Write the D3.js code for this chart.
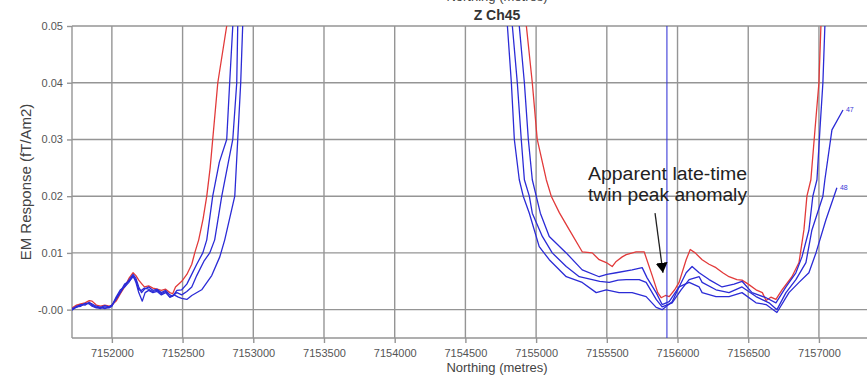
<!DOCTYPE html>
<html>
<head>
<meta charset="utf-8">
<script src="https://cdn.jsdelivr.net/npm/d3@7"></script>
<style>
  body { margin: 0; background: #fff; }
  svg { display: block; font-family: "Liberation Sans", Arial, sans-serif; }
</style>
</head>
<body>
<svg id="chart" width="867" height="377"></svg>
<script>
// tick values and labels
const xTicks = [7152000, 7152500, 7153000, 7153500, 7154000, 7154500, 7155000, 7155500, 7156000, 7156500, 7157000];
const yTicks = [0, 0.01, 0.02, 0.03, 0.04, 0.05];
const yTickLabels = ["-0.00", "0.01", "0.02", "0.03", "0.04", "0.05"];

// [northing, response]; the big anomaly in the middle is off scale
const ch45 = [
  [7151718,0.0003],[7151750,0.0008],[7151780,0.0010],[7151810,0.0012],[7151840,0.0016],[7151860,0.0015],
  [7151890,0.0008],[7151920,0.0006],[7151950,0.0008],[7151980,0.0006],[7152000,0.0008],[7152030,0.0015],
  [7152060,0.0028],[7152090,0.0040],[7152120,0.0055],[7152150,0.0065],[7152170,0.0060],[7152190,0.0052],
  [7152210,0.0046],[7152230,0.0040],[7152260,0.0042],[7152290,0.0038],[7152320,0.0036],[7152350,0.0034],
  [7152380,0.0036],[7152410,0.0030],[7152430,0.0028],[7152450,0.0040],[7152494,0.0050],[7152530,0.0062],
  [7152565,0.0080],[7152586,0.0100],[7152614,0.0123],[7152645,0.0160],[7152671,0.0200],[7152695,0.0250],
  [7152713,0.0300],[7152749,0.0400],[7152812,0.0500],[7152840,0.0560],[7153850,0.3000],
  [7154910,0.0600],[7154931,0.0500],[7154973,0.0400],[7155008,0.0300],[7155072,0.0229],[7155107,0.0200],
  [7155164,0.0171],[7155234,0.0141],[7155326,0.0102],[7155397,0.0100],[7155446,0.0088],[7155496,0.0083],
  [7155538,0.0076],[7155566,0.0085],[7155609,0.0093],[7155637,0.0097],[7155707,0.0102],[7155764,0.0102],
  [7155821,0.0060],[7155860,0.0030],[7155884,0.0021],[7155915,0.0025],[7155941,0.0023],[7155980,0.0035],
  [7156011,0.0048],[7156061,0.0088],[7156090,0.0106],[7156125,0.0100],[7156174,0.0088],[7156223,0.0080],
  [7156272,0.0074],[7156320,0.0065],[7156364,0.0058],[7156420,0.0053],[7156456,0.0052],[7156500,0.0045],
  [7156555,0.0035],[7156600,0.0030],[7156626,0.0016],[7156660,0.0022],[7156696,0.0018],[7156739,0.0035],
  [7156809,0.0058],[7156859,0.0083],[7156894,0.0141],[7156915,0.0200],[7156943,0.0229],[7156972,0.0317],
  [7157000,0.0400],[7157014,0.0500],[7157030,0.0600]
];
const ch46 = [
  [7151718,0.0000],[7151750,0.0006],[7151780,0.0008],[7151810,0.0010],[7151840,0.0012],[7151860,0.0010],
  [7151890,0.0006],[7151920,0.0004],[7151950,0.0007],[7151980,0.0005],[7152000,0.0008],[7152030,0.0018],
  [7152060,0.0030],[7152090,0.0042],[7152120,0.0052],[7152150,0.0062],[7152170,0.0055],[7152190,0.0040],
  [7152210,0.0030],[7152230,0.0036],[7152260,0.0040],[7152290,0.0034],[7152320,0.0036],[7152350,0.0030],
  [7152380,0.0034],[7152410,0.0026],[7152430,0.0024],[7152460,0.0034],[7152494,0.0035],[7152530,0.0045],
  [7152560,0.0060],[7152600,0.0080],[7152643,0.0100],[7152671,0.0123],[7152713,0.0200],[7152760,0.0260],
  [7152812,0.0300],[7152833,0.0400],[7152855,0.0500],[7152870,0.0560],[7153850,0.3000],
  [7154860,0.0600],[7154881,0.0500],[7154917,0.0400],[7154945,0.0300],[7154973,0.0229],[7155001,0.0200],
  [7155030,0.0170],[7155093,0.0129],[7155213,0.0100],[7155326,0.0070],[7155446,0.0058],[7155500,0.0062],
  [7155566,0.0065],[7155679,0.0070],[7155750,0.0074],[7155785,0.0056],[7155849,0.0030],[7155891,0.0009],
  [7155941,0.0014],[7156011,0.0040],[7156061,0.0065],[7156103,0.0076],[7156153,0.0065],[7156223,0.0053],
  [7156315,0.0040],[7156400,0.0045],[7156456,0.0050],[7156527,0.0030],[7156626,0.0021],[7156696,0.0012],
  [7156767,0.0040],[7156837,0.0065],[7156880,0.0093],[7156929,0.0140],[7156957,0.0200],[7156986,0.0229],
  [7157007,0.0317],[7157028,0.0400],[7157042,0.0500],[7157055,0.0600]
];
const ch47 = [
  [7151718,0.0002],[7151750,0.0004],[7151780,0.0009],[7151810,0.0008],[7151840,0.0013],[7151860,0.0008],
  [7151890,0.0004],[7151920,0.0002],[7151950,0.0005],[7151980,0.0003],[7152000,0.0006],[7152030,0.0020],
  [7152060,0.0032],[7152090,0.0045],[7152120,0.0050],[7152150,0.0058],[7152170,0.0052],[7152190,0.0035],
  [7152210,0.0034],[7152230,0.0038],[7152260,0.0036],[7152290,0.0032],[7152320,0.0034],[7152350,0.0028],
  [7152380,0.0032],[7152410,0.0022],[7152430,0.0024],[7152460,0.0030],[7152494,0.0026],[7152530,0.0032],
  [7152565,0.0040],[7152600,0.0060],[7152650,0.0085],[7152692,0.0100],[7152727,0.0123],[7152777,0.0200],
  [7152855,0.0300],[7152883,0.0400],[7152890,0.0500],[7152900,0.0560],[7153850,0.3000],
  [7154820,0.0600],[7154832,0.0500],[7154867,0.0400],[7154895,0.0300],[7154917,0.0229],[7154952,0.0200],
  [7154973,0.0170],[7155044,0.0129],[7155114,0.0100],[7155213,0.0076],[7155305,0.0058],[7155397,0.0053],
  [7155450,0.0050],[7155517,0.0048],[7155580,0.0052],[7155637,0.0053],[7155729,0.0053],[7155778,0.0048],
  [7155849,0.0018],[7155891,0.0005],[7155962,0.0012],[7156025,0.0035],[7156082,0.0053],[7156153,0.0058],
  [7156174,0.0048],[7156272,0.0035],[7156364,0.0030],[7156456,0.0040],[7156555,0.0023],[7156647,0.0012],
  [7156703,0.0000],[7156767,0.0030],[7156837,0.0053],[7156908,0.0083],[7156950,0.0140],[7157028,0.0200],
  [7157042,0.0229],[7157092,0.0317],[7157170,0.0352]
];
const ch48 = [
  [7151718,-0.0001],[7151750,0.0005],[7151780,0.0006],[7151810,0.0011],[7151840,0.0010],[7151860,0.0006],
  [7151890,0.0003],[7151920,0.0004],[7151950,0.0002],[7151980,0.0004],[7152000,0.0007],[7152030,0.0022],
  [7152060,0.0035],[7152090,0.0040],[7152120,0.0048],[7152150,0.0060],[7152170,0.0048],[7152190,0.0030],
  [7152215,0.0015],[7152235,0.0030],[7152260,0.0034],[7152290,0.0030],[7152320,0.0032],[7152350,0.0026],
  [7152380,0.0030],[7152410,0.0022],[7152440,0.0026],[7152470,0.0022],[7152494,0.0020],[7152530,0.0018],
  [7152565,0.0025],[7152635,0.0035],[7152706,0.0060],[7152763,0.0093],[7152798,0.0123],[7152869,0.0200],
  [7152890,0.0300],[7152911,0.0400],[7152925,0.0500],[7152935,0.0560],[7153850,0.3000],
  [7154780,0.0600],[7154797,0.0500],[7154825,0.0400],[7154846,0.0300],[7154881,0.0229],[7154909,0.0200],
  [7154952,0.0170],[7155022,0.0111],[7155093,0.0088],[7155213,0.0058],[7155326,0.0048],[7155425,0.0030],
  [7155496,0.0035],[7155587,0.0030],[7155679,0.0030],[7155778,0.0023],[7155849,0.0004],[7155891,0.0000],
  [7155962,0.0014],[7156011,0.0040],[7156082,0.0048],[7156153,0.0040],[7156174,0.0030],[7156272,0.0023],
  [7156364,0.0023],[7156456,0.0030],[7156555,0.0012],[7156626,0.0009],[7156703,-0.0005],[7156788,0.0030],
  [7156859,0.0048],[7156929,0.0065],[7156979,0.0100],[7157049,0.0158],[7157127,0.0215]
];

const markerNorthing = 7155925;
const annotationLines = ["Apparent late-time", "twin peak anomaly"];
const annotationAt = [7155367, 0.0228];        // first line start
const arrowFrom = [7155841, 0.0170], arrowTo = [7155897, 0.0065];

const svg = d3.select("#chart");
const plotLeft = 72, plotTop = 26, plotBottom = 338;

const x = d3.scaleLinear().domain([7151718, 7157400]).range([plotLeft, 875.5]);
const y = d3.scaleLinear().domain([-0.005, 0.05]).range([plotBottom, plotTop]);

const gridColor = "#959595";

// grid
svg.append("g").selectAll("line").data(xTicks).join("line")
  .attr("x1", d => x(d)).attr("x2", d => x(d))
  .attr("y1", plotTop).attr("y2", plotBottom)
  .attr("stroke", gridColor).attr("stroke-width", 1.4);
svg.append("g").selectAll("line").data(yTicks).join("line")
  .attr("x1", plotLeft).attr("x2", x.range()[1])
  .attr("y1", d => y(d)).attr("y2", d => y(d))
  .attr("stroke", gridColor).attr("stroke-width", 1.4);

// frame
svg.append("line").attr("x1", plotLeft).attr("x2", plotLeft).attr("y1", plotTop).attr("y2", plotBottom)
  .attr("stroke", gridColor).attr("stroke-width", 1.4);
svg.append("line").attr("x1", plotLeft).attr("x2", x.range()[1]).attr("y1", plotBottom).attr("y2", plotBottom)
  .attr("stroke", gridColor).attr("stroke-width", 1.4);

// axes (outer ticks + labels)
const xAxis = svg.append("g").attr("transform", `translate(0,${plotBottom})`)
  .call(d3.axisBottom(x).tickValues(xTicks).tickFormat(d3.format("d")).tickSize(5).tickPadding(6));
const yAxis = svg.append("g").attr("transform", `translate(${plotLeft},0)`)
  .call(d3.axisLeft(y).tickValues(yTicks).tickFormat((d, i) => yTickLabels[i]).tickSize(5).tickPadding(4));
[xAxis, yAxis].forEach(g => {
  g.select(".domain").remove();
  g.selectAll(".tick line").attr("stroke", gridColor).attr("stroke-width", 1.4);
  g.selectAll(".tick text").attr("fill", "#555").attr("font-size", 11)
    .attr("font-family", '"Liberation Sans", Arial, sans-serif');
});

// series
svg.append("clipPath").attr("id", "plot").append("rect")
  .attr("x", plotLeft).attr("y", plotTop).attr("width", x.range()[1] - plotLeft).attr("height", plotBottom - plotTop);

const line = d3.line().x(d => x(d[0])).y(d => y(d[1]));
const series = [
  { data: ch45, color: "#e23a3a" },
  { data: ch46, color: "#2b2bd6" },
  { data: ch47, color: "#2b2bd6" },
  { data: ch48, color: "#2b2bd6" }
];
const plot = svg.append("g").attr("clip-path", "url(#plot)");
plot.selectAll("path").data(series).join("path")
  .attr("d", d => line(d.data))
  .attr("fill", "none").attr("stroke", d => d.color)
  .attr("stroke-width", 1.3).attr("stroke-linejoin", "round");

// vertical marker
plot.append("line")
  .attr("x1", x(markerNorthing)).attr("x2", x(markerNorthing))
  .attr("y1", plotTop).attr("y2", plotBottom)
  .attr("stroke", "#3a3ad8").attr("stroke-width", 1.1);

// channel labels at line ends
[["47", ch47], ["48", ch48]].forEach(([name, data]) => {
  const last = data[data.length - 1];
  svg.append("text").attr("x", x(last[0]) + 3).attr("y", y(last[1]) + 2)
    .attr("font-size", 7).attr("fill", "#3a3ad8").text(name);
});

// annotation
const ann = svg.append("text").attr("x", x(annotationAt[0])).attr("y", y(annotationAt[1]))
  .attr("font-size", 18).attr("fill", "#222");
annotationLines.forEach((t, i) => {
  ann.append("tspan").attr("x", x(annotationAt[0])).attr("dy", i ? 21 : 0)
    .attr("textLength", 159).attr("lengthAdjust", "spacingAndGlyphs").text(t);
});

svg.append("defs").append("marker").attr("id", "head")
  .attr("viewBox", "0 0 10 12").attr("refX", 10).attr("refY", 6)
  .attr("markerWidth", 10).attr("markerHeight", 12).attr("markerUnits", "userSpaceOnUse")
  .attr("orient", "auto")
  .append("path").attr("d", "M0,0 L10,6 L0,12 Z").attr("fill", "#000");
svg.append("line")
  .attr("x1", x(arrowFrom[0])).attr("y1", y(arrowFrom[1]))
  .attr("x2", x(arrowTo[0])).attr("y2", y(arrowTo[1]))
  .attr("stroke", "#222").attr("stroke-width", 1.3).attr("marker-end", "url(#head)");

// titles
const cx = 497;
svg.append("text").attr("x", cx).attr("y", 1).attr("text-anchor", "middle")
  .attr("font-size", 13).attr("fill", "#444").text("Northing (metres)");
svg.append("text").attr("x", cx).attr("y", 20).attr("text-anchor", "middle")
  .attr("font-size", 14).attr("font-weight", "bold").attr("fill", "#333").text("Z Ch45");
svg.append("text").attr("x", cx).attr("y", 372).attr("text-anchor", "middle")
  .attr("font-size", 13).attr("fill", "#444").text("Northing (metres)");
svg.append("text").attr("transform", "translate(31,182) rotate(-90)").attr("text-anchor", "middle")
  .attr("font-size", 15).attr("fill", "#444").text("EM Response (fT/Am2)");
</script>
</body>
</html>
